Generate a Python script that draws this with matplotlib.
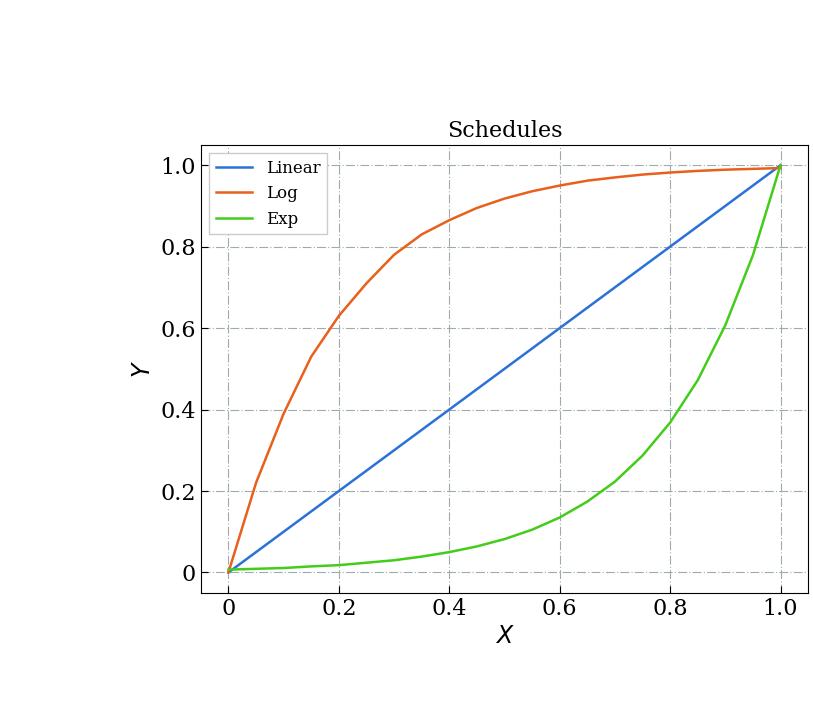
import numpy as np
import matplotlib.pyplot as plt
from matplotlib.ticker import FuncFormatter

# values
x = [0.0, 0.05, 0.1, 0.15, 0.2, 0.25, 0.3, 0.35, 0.4, 0.45, 0.5,
     0.55, 0.6, 0.65, 0.7, 0.75, 0.8, 0.85, 0.9, 0.95, 1.0]
linear = x
log_y = [0.0, 0.22, 0.39, 0.53, 0.63, 0.71, 0.78, 0.83, 0.865, 0.895, 0.918,
         0.936, 0.950, 0.962, 0.970, 0.977, 0.982, 0.986, 0.989, 0.991, 0.993]
exp_y = [0.007, 0.009, 0.011, 0.015, 0.018, 0.024, 0.030, 0.039, 0.050, 0.064, 0.082,
         0.105, 0.135, 0.174, 0.223, 0.287, 0.368, 0.472, 0.607, 0.779, 1.0]

plt.rcParams['font.family'] = ['DejaVu Serif']
fig = plt.figure(figsize=(8.13, 7.10), dpi=100)
ax = fig.add_axes([0.247, 0.165, 0.747, 0.631])

ax.plot(x, linear, color='#2a72d8', lw=1.8, label='Linear')
ax.plot(x, log_y, color='#e8601c', lw=1.8, label='Log')
ax.plot(x, exp_y, color='#44cc1a', lw=1.8, label='Exp')

ax.set_xlim(-0.05, 1.05)
ax.set_ylim(-0.05, 1.05)
ticks = [0, 0.2, 0.4, 0.6, 0.8, 1.0]
ax.set_xticks(ticks)
ax.set_yticks(ticks)
fmt = FuncFormatter(lambda v, p: '0' if abs(v) < 1e-9 else f'{v:.1f}')
ax.xaxis.set_major_formatter(fmt)
ax.yaxis.set_major_formatter(fmt)
ax.tick_params(direction='in', labelsize=16, length=5)
ax.grid(True, color='#a0aaaa', lw=0.8, linestyle=(0, (8, 2, 1, 2)))

ax.set_title('Schedules', fontsize=16)
ax.set_xlabel('$X$', fontsize=17)
ax.set_ylabel('$Y$', fontsize=17)
ax.legend(loc='upper left', fontsize=12, handlelength=2.2, framealpha=1,
          fancybox=False, edgecolor='#cccccc')

fig.savefig('out.png')
